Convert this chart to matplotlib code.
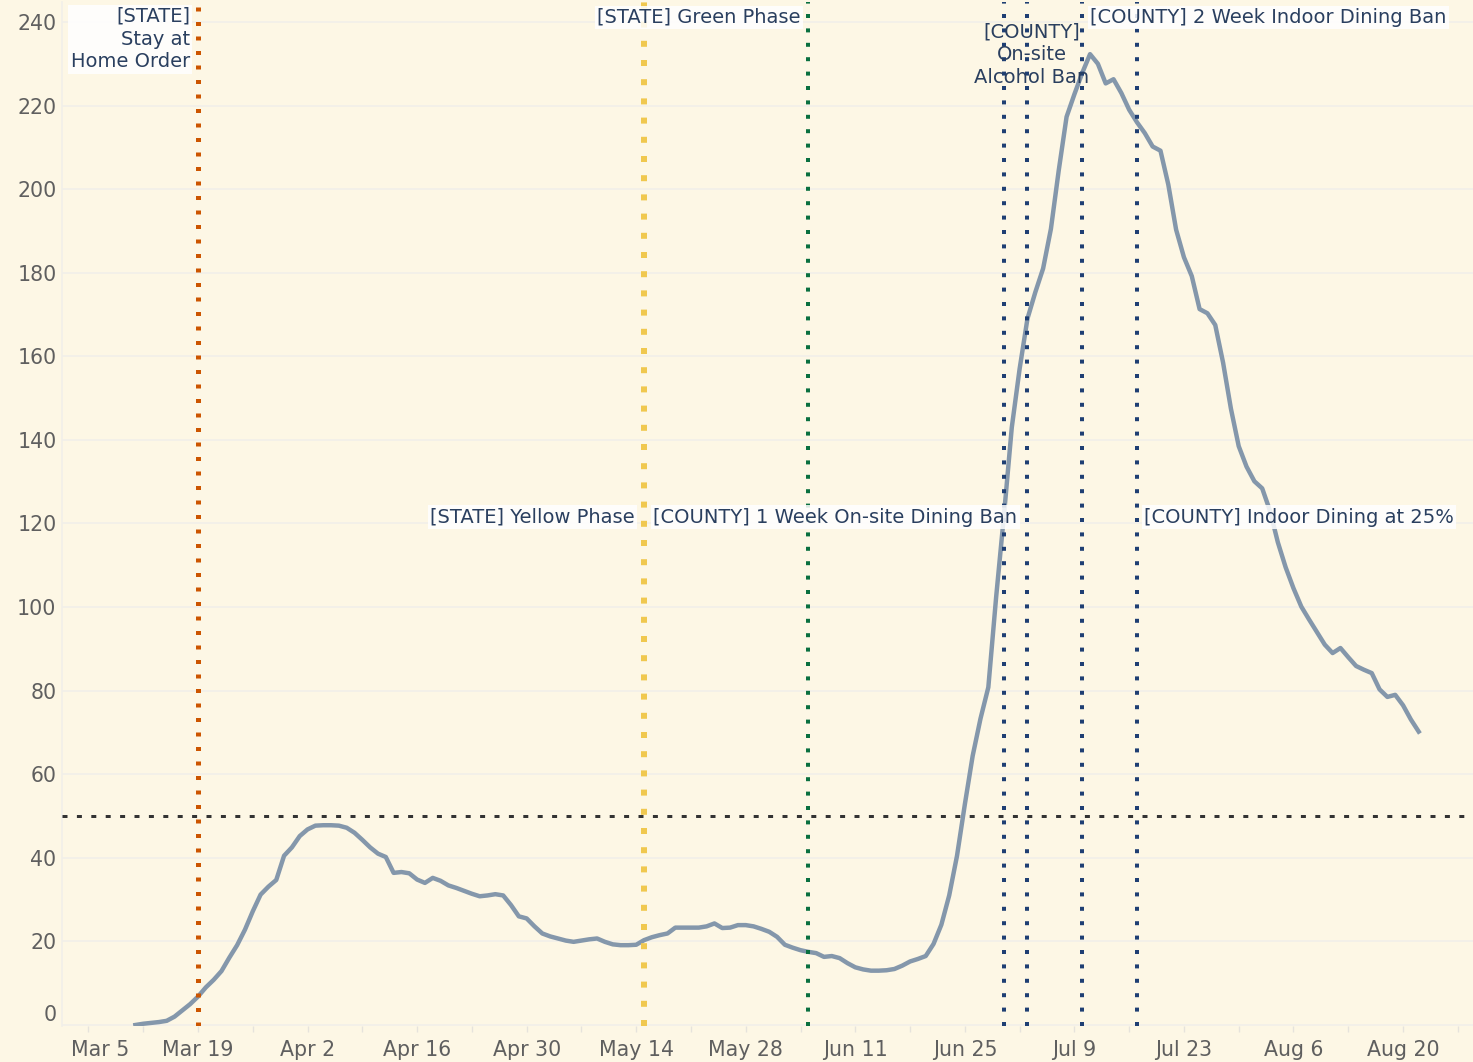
import numpy as np
import matplotlib
matplotlib.use("Agg")
import matplotlib.pyplot as plt
import matplotlib.dates as mdates
from matplotlib.transforms import ScaledTranslation

# daily values, 2020-03-11 .. 2020-08-22
start = "2020-03-11"
mar = [0.0, 0.3, 0.5, 0.7, 1.0, 2.0, 3.5, 5.0, 6.8, 9.0, 10.8, 12.9, 16.1, 19.1,
       22.8, 27.2, 31.2, 33.1, 34.7, 40.5, 42.5]
apr = [45.2, 46.8, 47.7, 47.8, 47.8, 47.7, 47.2, 46.0, 44.3, 42.5,
       41.0, 40.2, 36.4, 36.6, 36.3, 34.8, 34.0, 35.2, 34.5, 33.4,
       32.8, 32.1, 31.4, 30.8, 31.0, 31.3, 31.0, 28.7, 26.0, 25.5]
may = [23.6, 21.9, 21.2, 20.7, 20.2, 19.9, 20.2, 20.5, 20.7, 19.9,
       19.3, 19.1, 19.1, 19.2, 20.3, 21.0, 21.5, 21.9, 23.3, 23.3,
       23.3, 23.3, 23.6, 24.3, 23.2, 23.3, 23.9, 23.9, 23.6, 23.0, 22.3]
jun = [21.1, 19.2, 18.5, 17.9, 17.5, 17.2, 16.3, 16.5, 16.0, 14.8,
       13.8, 13.3, 13.0, 13.0, 13.1, 13.4, 14.2, 15.2, 15.8, 16.5,
       19.4, 24.0, 31.0, 40.5, 52.8, 64.4, 73.3, 80.8, 102.4, 122.0]
jul = [143.0, 157.0, 169.0, 175.3, 181.0, 190.5, 204.5, 217.3, 222.7, 227.8,
       232.3, 230.0, 225.3, 226.3, 223.0, 219.0, 216.0, 213.4, 210.2, 209.2,
       201.1, 190.3, 183.7, 179.2, 171.3, 170.3, 167.5, 158.5, 147.5, 138.5, 133.6]
aug = [130.1, 128.4, 123.0, 115.5, 109.5, 104.5, 100.1, 97.0, 94.0, 91.0,
       89.0, 90.2, 88.0, 85.9, 85.0, 84.2, 80.3, 78.5, 79.0, 76.5, 73.1, 70.2]

event_dates = ["2020-03-19", "2020-05-15", "2020-06-05",
               "2020-06-30", "2020-07-03", "2020-07-10", "2020-07-17"]
event_colors = ["#cc5500", "#f0c84f", "#0a7040",
                "#1f3f73", "#1f3f73", "#1f3f73", "#1f3f73"]
threshold = 50

annot_texts = ["[STATE]\nStay at\nHome Order",
               "[STATE] Green Phase",
               "[COUNTY]\nOn-site\nAlcohol Ban",
               "[COUNTY] 2 Week Indoor Dining Ban",
               "[STATE] Yellow Phase",
               "[COUNTY] 1 Week On-site Dining Ban",
               "[COUNTY] Indoor Dining at 25%"]

tick_dates = ["2020-03-05", "2020-03-19", "2020-04-02", "2020-04-16", "2020-04-30",
              "2020-05-14", "2020-05-28", "2020-06-11", "2020-06-25", "2020-07-09",
              "2020-07-23", "2020-08-06", "2020-08-20"]
tick_labels = ["Mar 5", "Mar 19", "Apr 2", "Apr 16", "Apr 30", "May 14", "May 28",
               "Jun 11", "Jun 25", "Jul 9", "Jul 23", "Aug 6", "Aug 20"]
y_ticks = list(range(0, 241, 20))

BG = "#fdf7e5"
TXT = "#2a3f5f"
W, H = 1473, 1062


def dnum(s):
    return mdates.date2num(np.datetime64(s))


values = mar + apr + may + jun + jul + aug
dates = np.arange(np.datetime64(start), np.datetime64(start) + len(values))

fig = plt.figure(figsize=(W / 100, H / 100), dpi=100, facecolor=BG)
ax = fig.add_axes([62 / W, 36 / H, 1411 / W, 1024 / H], facecolor=BG)

ax.plot(dates, values, color="#8497ab", lw=3.2, zorder=3, solid_joinstyle="round")

# event lines: (line width px, dot px, gap px)
styles = [(5, 4, 10.5), (6, 6, 13.2), (4, 4, 10.4),
          (4, 4, 10.4), (4, 4, 10.4), (4, 4, 10.4), (4, 4, 10.4)]
for d, c, (lw, on, off) in zip(event_dates, event_colors, styles):
    ax.axvline(dnum(d), color=c, lw=lw * 0.72,
               linestyle=(0, (on / lw, off / lw)), zorder=5)
ax.axhline(threshold, color="#333333", lw=3 * 0.72,
           linestyle=(0, (5 / 3, 9.4 / 3)), zorder=5)

box = dict(boxstyle="square,pad=0.12", fc="white", alpha=0.85, ec="none")
# (anchor event index, y value, ha, va, dx px, boxed)
placements = [(0, 243.6, "right", "top", -8, True),
              (2, 241.1, "right", "center", -8, True),
              (4, 232.2, "center", "center", 4, False),
              (5, 241.1, "left", "center", 8, True),
              (1, 121.5, "right", "center", -9, True),
              (4, 121.5, "right", "center", -10, True),
              (6, 121.5, "left", "center", 7, True)]
for txt, (i, y, ha, va, dx, boxed) in zip(annot_texts, placements):
    ax.annotate(txt, xy=(dnum(event_dates[i]), y), xytext=(dx, 0),
                textcoords="offset pixels", ha=ha, va=va, fontsize=14,
                color=TXT, linespacing=1.25, multialignment=ha,
                bbox=box if boxed else None, zorder=6)

ref = dnum("2020-03-19")
ax.set_xlim(ref - 17.38, ref + 162.94)
ax.set_ylim(-0.24, 244.78)

ax.set_xticks([dnum(d) for d in tick_dates])
ax.set_xticklabels(tick_labels)
ax.xaxis.set_minor_locator(mdates.WeekdayLocator(byweekday=mdates.TH))
ax.set_yticks(y_ticks)
ax.set_yticklabels([str(v) for v in y_ticks])

ax.tick_params(axis="x", which="both", length=4.3, width=1, color="#e6e3dc",
               labelsize=14.8, labelcolor="#5f5f5f", pad=6)
ax.tick_params(axis="y", length=0, labelsize=14.8, labelcolor="#5f5f5f", pad=4)
ax.grid(axis="y", color="#f1efe9", lw=1.2, zorder=1)
ax.set_axisbelow(True)
for side in ["top", "right", "bottom"]:
    ax.spines[side].set_visible(False)
ax.spines["left"].set_color("#f1efe9")
ax.spines["left"].set_linewidth(1.2)

# reference nudges the "0" label up and the first date label right
lab0 = ax.get_yticklabels()[0]
lab0.set_transform(lab0.get_transform() + ScaledTranslation(0, 12 / 100, fig.dpi_scale_trans))
labm = ax.get_xticklabels()[0]
labm.set_transform(labm.get_transform() + ScaledTranslation(12 / 100, 0, fig.dpi_scale_trans))

fig.savefig("out.png", dpi=100, facecolor=BG)
